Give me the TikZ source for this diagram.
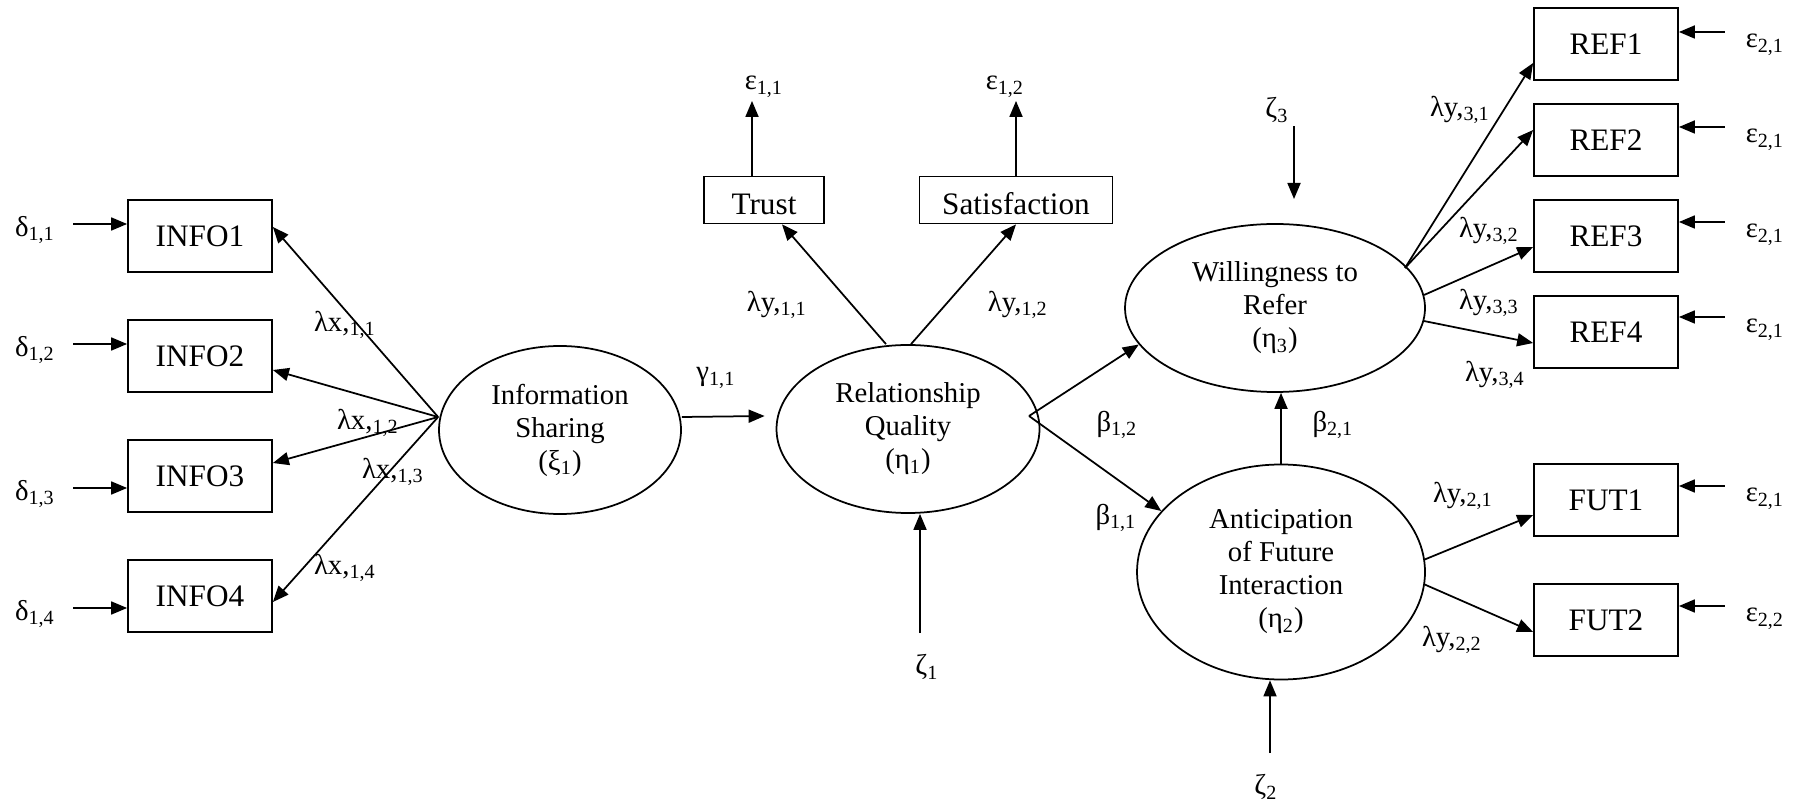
\documentclass[tikz,border=0pt]{standalone}
\usepackage{fontspec}
\setmainfont{Liberation Serif}
\usetikzlibrary{positioning, arrows.meta}
\usetikzlibrary{shapes,shapes.geometric}

\begin{document}
\begin{tikzpicture}[-{Triangle[length=6.4pt,width=5.2pt]}, x=0.4pt, y=-0.4pt, node distance=48pt, line width=0.7pt,
		obs/.style={draw, rectangle, minimum width=57.6pt, minimum height=28.6pt, font=\fontsize{12.5}{14}\selectfont},
		ind/.style={draw, rectangle, minimum height=18.8pt, inner ysep=1pt, text height=12pt, text depth=0pt, font=\fontsize{12.5}{14}\selectfont},
		lat/.style={draw, ellipse, inner sep=0pt, align=center, font=\fontsize{11.5}{13.2}\selectfont},
		lbl/.style={inner sep=1pt, font=\fontsize{11.5}{13}\selectfont}]
		\useasboundingbox (0,0) rectangle (1810,804);
		
		\node[obs] (info1) at (200,236) {INFO1};
		\node[obs, below of = info1] (info2) {INFO2};
		\node[obs, below of = info2] (info3) {INFO3};
		\node[obs, below of = info3] (info4) {INFO4};
		
		\node[lbl] (d11) at (35,230) {δ\textsubscript{1,1}};
		\node[lbl] (d12) at (35,350) {δ\textsubscript{1,2}};
		\node[lbl] (d13) at (35,494) {δ\textsubscript{1,3}};
		\node[lbl] (d14) at (35,614) {δ\textsubscript{1,4}};
		
		\node[lat, minimum width=96.8pt, minimum height=67.2pt] (xi1) at (560,430) {Information\\Sharing\\(ξ\textsubscript{1})};
		\node[lat, minimum width=105.2pt, minimum height=67.2pt] (eta1) at (908,429) {Relationship\\Quality\\(η\textsubscript{1})};
		\node[lat, minimum width=120pt, minimum height=67.2pt] (eta3) at (1275,308) {Willingness to\\Refer\\(η\textsubscript{3})};
		\node[lat, minimum width=115.2pt, minimum height=86pt] (eta2) at (1281,572) {Anticipation\\of Future\\Interaction\\(η\textsubscript{2})};
		
		\node[ind, minimum width=48pt] (trust) at (764,200) {Trust};
		\node[ind, minimum width=77.2pt] (satis) at (1016,200) {Satisfaction};
		\node[lbl] (e11) at (764,87) {ε\textsubscript{1,1}};
		\node[lbl] (e12) at (1005,87) {ε\textsubscript{1,2}};
		
		\node[obs] (ref1) at (1606,44) {REF1};
		\node[obs, below of = ref1, node distance=38.4pt] (ref2) {REF2};
		\node[obs, below of = ref2, node distance=38.4pt] (ref3) {REF3};
		\node[obs, below of = ref3, node distance=38.4pt] (ref4) {REF4};
		\node[obs] (fut1) at (1606,500) {FUT1};
		\node[obs, below of = fut1] (fut2) {FUT2};
		
		\node[lbl] (e21a) at (1765,45) {ε\textsubscript{2,1}};
		\node[lbl] (e21b) at (1765,140) {ε\textsubscript{2,1}};
		\node[lbl] (e21c) at (1765,235) {ε\textsubscript{2,1}};
		\node[lbl] (e21d) at (1765,330) {ε\textsubscript{2,1}};
		\node[lbl] (e21e) at (1765,499) {ε\textsubscript{2,1}};
		\node[lbl] (e22) at (1765,619) {ε\textsubscript{2,2}};
		
		% loadings and paths
		\node[lbl] (lx11) at (345,325) {λx,\textsubscript{1,1}};
		\node[lbl] (lx12) at (368,423) {λx,\textsubscript{1,2}};
		\node[lbl] (lx13) at (393,472) {λx,\textsubscript{1,3}};
		\node[lbl] (lx14) at (345,568) {λx,\textsubscript{1,4}};
		\node[lbl] (g11) at (716,378) {γ\textsubscript{1,1}};
		\node[lbl] (ly11) at (777,305) {λy,\textsubscript{1,1}};
		\node[lbl] (ly12) at (1018,305) {λy,\textsubscript{1,2}};
		\node[lbl] (b12) at (1117,425) {β\textsubscript{1,2}};
		\node[lbl] (b11) at (1116,518) {β\textsubscript{1,1}};
		\node[lbl] (b21) at (1333,425) {β\textsubscript{2,1}};
		\node[lbl] (ly31) at (1460,110) {λy,\textsubscript{3,1}};
		\node[lbl] (ly32) at (1489,231) {λy,\textsubscript{3,2}};
		\node[lbl] (ly33) at (1489,303) {λy,\textsubscript{3,3}};
		\node[lbl] (ly34) at (1495,375) {λy,\textsubscript{3,4}};
		\node[lbl] (ly21) at (1463,496) {λy,\textsubscript{2,1}};
		\node[lbl] (ly22) at (1452,640) {λy,\textsubscript{2,2}};
		\node[lbl] (z1) at (927,667) {ζ\textsubscript{1}};
		\node[lbl] (z2) at (1266,787) {ζ\textsubscript{2}};
		\node[lbl] (z3) at (1277,110) {ζ\textsubscript{3}};
		
		\coordinate (xiin) at ([yshift=5.2pt]xi1.west);
		\coordinate (rqout) at ([shift={(48.4pt,5.2pt)}]eta1.center);
		\coordinate (wtrout) at ([shift={(52pt,16pt)}]eta3.center);
		\coordinate (z1top) at (920,633);
		\coordinate (z2top) at (1270,753);
		\coordinate (z3end) at (1294,199);
		
		\draw ([shift={(6pt,2.4pt)}]d11.east) -- ([yshift=2.4pt]d11.east -| info1.west) ;
		\draw ([shift={(6pt,2.4pt)}]d12.east) -- ([yshift=2.4pt]d12.east -| info2.west) ;
		\draw ([shift={(6pt,2.4pt)}]d13.east) -- ([yshift=2.4pt]d13.east -| info3.west) ;
		\draw ([shift={(6pt,2.4pt)}]d14.east) -- ([yshift=2.4pt]d14.east -| info4.west) ;
		
		\draw (xiin) -- ([yshift=3.6pt]info1.east) ;
		\draw (xiin) -- ([yshift=-5.6pt]info2.east) ;
		\draw (xiin) -- ([yshift=5.2pt]info3.east) ;
		\draw (xiin) -- ([yshift=-2.4pt]info4.east) ;
		
		\draw ([yshift=5.2pt]xi1.east) -- ([shift={(-4.4pt,5.2pt)}]eta1.west) ;
		\draw ([xshift=-8.8pt]eta1.north) -- ([xshift=7.2pt]trust.south) ;
		\draw ([xshift=1.2pt]eta1.north) -- (satis.south) ;
		\draw ([xshift=-4.8pt]trust.north) -- ([xshift=-4.8pt]trust.north |- e11.south) ;
		\draw (satis.north) -- (satis.north |- e12.south) ;
		\draw (z1top) -- (z1top |- eta1.south) ;
		
		\draw (rqout) -- (eta3.195) ;
		\draw (rqout) -- (eta2.153) ;
		\draw (eta2.north) -- (eta2.north |- eta3.south) ;
		\draw (z2top) -- (z2top |- eta2.south) ;
		\draw (z3.south -| z3end) -- (z3end) ;
		
		\draw (wtrout) -- ([yshift=-7.6pt]ref1.west) ;
		\draw (wtrout) -- ([yshift=4pt]ref2.west) ;
		\draw (eta3.5) -- ([yshift=-4.4pt]ref3.west) ;
		\draw (eta3.-5) -- ([yshift=-4.4pt]ref4.west) ;
		\draw (eta2.5) -- ([yshift=-6pt]fut1.west) ;
		\draw (eta2.-5) -- ([yshift=-4.8pt]fut2.west) ;
		
		\draw ([shift={(-7pt,5.2pt)}]e21a.west) -- ([yshift=5.2pt]e21a.west -| ref1.east) ;
		\draw ([shift={(-7pt,5.2pt)}]e21b.west) -- ([yshift=5.2pt]e21b.west -| ref2.east) ;
		\draw ([shift={(-7pt,5.2pt)}]e21c.west) -- ([yshift=5.2pt]e21c.west -| ref3.east) ;
		\draw ([shift={(-7pt,5.2pt)}]e21d.west) -- ([yshift=5.2pt]e21d.west -| ref4.east) ;
		\draw ([shift={(-7pt,5.2pt)}]e21e.west) -- ([yshift=5.2pt]e21e.west -| fut1.east) ;
		\draw ([shift={(-7pt,5.2pt)}]e22.west) -- ([yshift=5.2pt]e22.west -| fut2.east) ;
		
		\end{tikzpicture}
\end{document}
